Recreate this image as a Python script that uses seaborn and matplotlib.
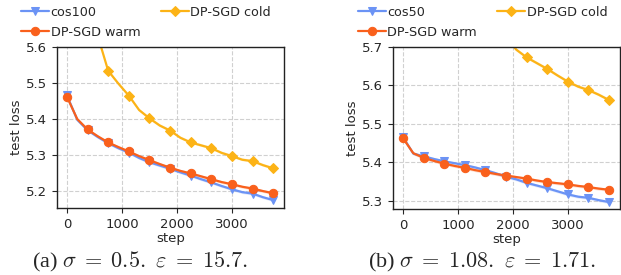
import matplotlib
matplotlib.use("Agg")
import matplotlib.pyplot as plt
import seaborn as sns
import pandas as pd

steps = [0, 187.5, 375, 562.5, 750, 937.5, 1125, 1312.5, 1500, 1687.5, 1875,
         2062.5, 2250, 2437.5, 2625, 2812.5, 3000, 3187.5, 3375, 3562.5, 3750]

# panel (a)
a_cos = [5.466, 5.398, 5.369, 5.350, 5.333, 5.319, 5.307, 5.292, 5.280, 5.271, 5.262,
         5.252, 5.243, 5.233, 5.224, 5.214, 5.205, 5.197, 5.193, 5.183, 5.175]
a_warm = [5.462, 5.400, 5.371, 5.352, 5.335, 5.322, 5.310, 5.297, 5.286, 5.275, 5.265,
          5.256, 5.249, 5.241, 5.233, 5.225, 5.219, 5.212, 5.207, 5.200, 5.194]
a_cold = [6.30, 6.00, 5.80, 5.63, 5.534, 5.498, 5.465, 5.425, 5.402, 5.382, 5.368,
          5.348, 5.335, 5.327, 5.319, 5.306, 5.297, 5.287, 5.283, 5.272, 5.263]

# panel (b)
b_cos = [5.466, 5.423, 5.416, 5.409, 5.403, 5.398, 5.393, 5.387, 5.380, 5.372, 5.363,
         5.356, 5.347, 5.340, 5.333, 5.325, 5.317, 5.311, 5.308, 5.302, 5.297]
b_warm = [5.463, 5.424, 5.412, 5.404, 5.397, 5.391, 5.386, 5.380, 5.375, 5.370, 5.366,
          5.362, 5.358, 5.353, 5.349, 5.346, 5.343, 5.339, 5.336, 5.332, 5.329]
b_cold = [6.60, 6.35, 6.15, 6.02, 5.94, 5.88, 5.84, 5.81, 5.78, 5.755, 5.725,
          5.693, 5.673, 5.658, 5.643, 5.626, 5.610, 5.597, 5.588, 5.576, 5.562]

labels_a = ["cos100", "DP-SGD warm", "DP-SGD cold"]
labels_b = ["cos50", "DP-SGD warm", "DP-SGD cold"]
captions = [r"(a) $\sigma\;=\;0.5.\ \varepsilon\;=\;15.7.$",
            r"(b) $\sigma\;=\;1.08.\ \varepsilon\;=\;1.71.$"]
yticks_a = [5.2, 5.3, 5.4, 5.5, 5.6]
yticks_b = [5.3, 5.4, 5.5, 5.6, 5.7]
xticks = [0, 1000, 2000, 3000]

colors = ["#6b93f5", "#f9601c", "#fcb316"]
markers = ["v", "o", "D"]

sns.set_style("ticks")
plt.rcParams["font.family"] = ["DejaVu Sans"]
plt.rcParams["mathtext.fontset"] = "cm"

fig = plt.figure(figsize=(6.21, 2.75), dpi=100)
ax_a = fig.add_axes([0.0918, 0.2436, 0.3655, 0.5855])
ax_b = fig.add_axes([0.633, 0.2400, 0.365, 0.5891])

panels = [
    (ax_a, [a_cos, a_warm, a_cold], labels_a, yticks_a, (5.153, 5.6), captions[0], 0.026, 0.226),
    (ax_b, [b_cos, b_warm, b_cold], labels_b, yticks_b, (5.279, 5.7), captions[1], 0.568, 0.777),
]

for ax, series, labels, yt, ylim, cap, lx, cx in panels:
    for vals, lab, col, mk in zip(series, labels, colors, markers):
        df = pd.DataFrame({"step": steps, "loss": vals})
        sns.lineplot(data=df, x="step", y="loss", ax=ax, color=col, marker=mk,
                     markevery=2, markersize=6 if mk != "D" else 5.5,
                     markeredgecolor=col, linewidth=1.6, label=lab, legend=False)
        band = 0.004
        ax.fill_between(steps, [v - band for v in vals], [v + band for v in vals],
                        color=col, alpha=0.2, linewidth=0)
    handles = ax.get_lines()[:3]
    ax.set_xlim(-180, 3945)
    ax.set_ylim(*ylim)
    ax.set_xticks(xticks)
    ax.set_yticks(yt)
    ax.tick_params(labelsize=9.5, length=3.5, width=0.8)
    ax.grid(True, linestyle="--", color="#d0d0d0", linewidth=0.8)
    for s in ax.spines.values():
        s.set_visible(True)
        s.set_color("#222222")
        s.set_linewidth(1.0)
    ax.set_xlabel("step", fontsize=9.5, labelpad=1)
    ax.set_ylabel("test loss", fontsize=9.5, labelpad=2)
    ax.legend(handles, labels, loc="upper left", bbox_to_anchor=(lx, 0.997),
              bbox_transform=fig.transFigure, ncol=2, frameon=False,
              fontsize=9.2, handlelength=2.2, handletextpad=0.1,
              columnspacing=1.6, labelspacing=0.55, borderaxespad=0)
    fig.text(cx, 0.047, cap, ha="center", va="center", fontsize=16,
             family=["Liberation Serif", "DejaVu Serif"])

fig.savefig("out.png", dpi=100)
